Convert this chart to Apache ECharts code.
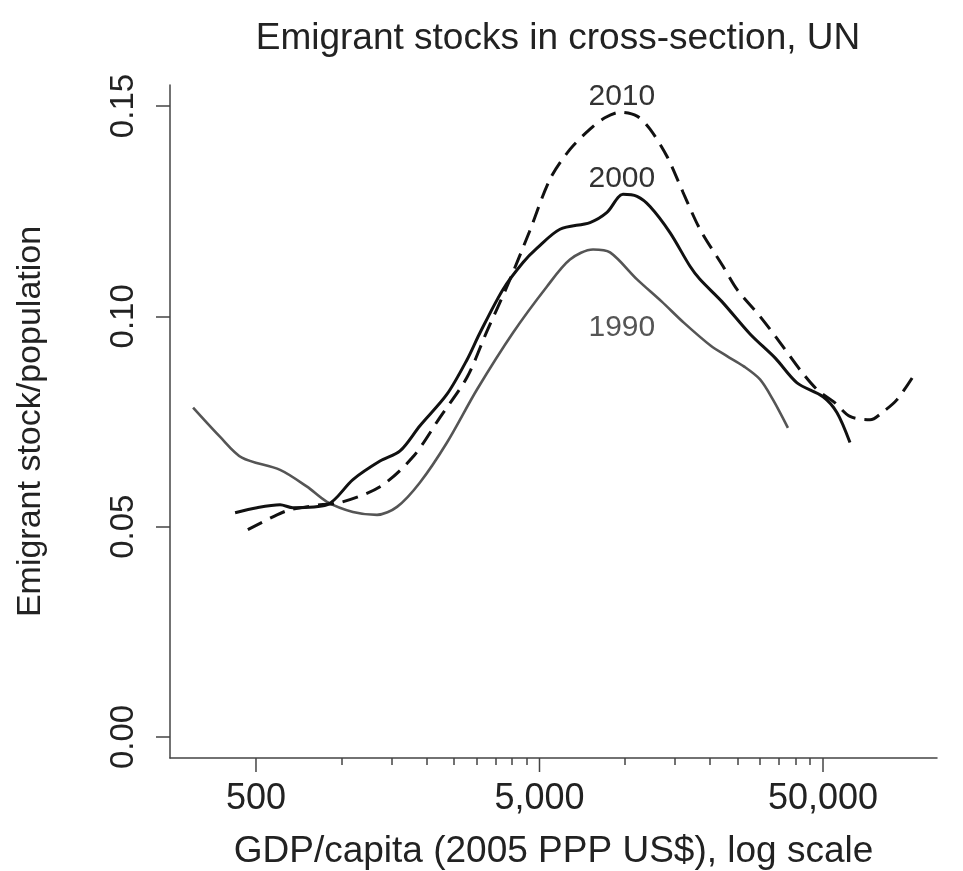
<!DOCTYPE html>
<html>
<head>
<meta charset="utf-8">
<script src="https://cdn.jsdelivr.net/npm/echarts@6/dist/echarts.min.js"></script>
<style>
  html, body { margin: 0; padding: 0; background: #fff; }
  #chart { width: 963px; height: 871px; background: #fff; }
</style>
</head>
<body>
<div id="chart"></div>
<script>
// GDP/capita (x) and emigrant stock share (y)
const gdp1990 = [300, 373, 446, 608, 757, 890, 1099, 1336, 1572, 1894, 2359, 3010, 4032, 5314, 6405, 7722, 8866, 11040, 13500, 16139, 20100, 23000, 26287, 29975, 33300, 37605];
const share1990 = [0.0783, 0.0714, 0.0664, 0.0635, 0.0595, 0.0559, 0.0535, 0.0528, 0.0547, 0.0605, 0.0700, 0.0826, 0.0961, 0.1071, 0.1135, 0.1159, 0.1152, 0.1088, 0.1035, 0.0985, 0.0930, 0.0905, 0.0881, 0.0850, 0.0802, 0.0735];

const gdp2000 = [422, 504, 608, 675, 890, 1099, 1369, 1611, 1894, 2359, 2776, 3084, 3717, 4373, 4900, 5905, 7536, 8650, 9850, 11040, 12270, 14430, 16980, 18400, 22000, 27640, 34000, 40490, 50000, 56030, 62250];
const share2000 = [0.0533, 0.0545, 0.0552, 0.0545, 0.0552, 0.0612, 0.0656, 0.0680, 0.0740, 0.0815, 0.0897, 0.0961, 0.1064, 0.1128, 0.1162, 0.1207, 0.1223, 0.1247, 0.1290, 0.1285, 0.1261, 0.1199, 0.1119, 0.1088, 0.1035, 0.0958, 0.0900, 0.0842, 0.0809, 0.0771, 0.0700];

const gdp2010 = [468, 593, 659, 841, 990, 1369, 1790, 2229, 2776, 3264, 3840, 4600, 5445, 6405, 7536, 8500, 9616, 11040, 12270, 14090, 16040, 18410, 22200, 24870, 29975, 36130, 41470, 47620, 55000, 62250, 73250, 81400, 91200, 103900];
const share2010 = [0.0493, 0.0528, 0.0540, 0.0552, 0.0557, 0.0595, 0.0666, 0.0760, 0.0855, 0.0965, 0.1071, 0.1200, 0.1326, 0.1397, 0.1445, 0.1472, 0.1485, 0.1476, 0.1445, 0.1380, 0.1295, 0.1207, 0.1119, 0.1064, 0.1000, 0.0928, 0.0873, 0.0826, 0.0795, 0.0762, 0.0754, 0.0773, 0.0802, 0.0857];

const xMajorTicks = [500, 5000, 50000];
const xMinorTicks = [1000, 1500, 2000, 2500, 3000, 3500, 4000, 4500, 10000, 15000, 20000, 25000, 30000, 35000, 40000, 45000];
const yTicks = [0, 0.05, 0.10, 0.15];

const X_MIN = 248.7;
const X_MAX = 126200;
const Y_MIN = -0.005;
const Y_MAX = 0.155;

const pairs = (xs, ys) => xs.map((x, i) => [x, ys[i]]);

const FONT = '"Liberation Sans", Arial, Helvetica, sans-serif';
const AXIS_COLOR = '#444';
const TEXT_COLOR = '#222';

const chart = echarts.init(document.getElementById('chart'), null, { renderer: 'canvas' });

// year tags placed in data space next to each curve
function yearTag(text, coord, color) {
  return {
    symbol: 'circle',
    symbolSize: 1,
    silent: true,
    itemStyle: { color: 'rgba(0,0,0,0)' },
    label: {
      show: true,
      position: 'inside',
      formatter: text,
      fontFamily: FONT,
      fontSize: 30,
      color: color
    },
    data: [{ coord: coord }]
  };
}

const option = {
  animation: false,
  tooltip: { show: false },
  title: {
    text: 'Emigrant stocks in cross-section, UN',
    left: 553,
    top: 15,
    textAlign: 'center',
    textStyle: { fontFamily: FONT, fontSize: 37, fontWeight: 'normal', color: TEXT_COLOR }
  },
  grid: {
    left: 170, right: 26, top: 85, bottom: 113,
    containLabel: false,
    outerBoundsMode: 'none'
  },
  xAxis: [
    {
      type: 'log',
      logBase: 10,
      min: X_MIN,
      max: X_MAX,
      position: 'bottom',
      name: 'GDP/capita (2005 PPP US$), log scale',
      nameLocation: 'middle',
      nameGap: 75,
      nameTextStyle: { fontFamily: FONT, fontSize: 37, color: TEXT_COLOR },
      axisLine: { show: true, onZero: false, lineStyle: { color: AXIS_COLOR, width: 1.5 } },
      axisTick: { show: false },
      axisLabel: {
        show: true,
        customValues: xMajorTicks,
        margin: 23,
        fontFamily: FONT,
        fontSize: 36,
        color: TEXT_COLOR,
        formatter: v => Math.round(v).toLocaleString('en-US')
      },
      splitLine: { show: false },
      minorTick: { show: false }
    },
    {
      // short ticks: every 500 up to 5,000 and every 5,000 up to 50,000
      type: 'log',
      logBase: 10,
      min: X_MIN,
      max: X_MAX,
      position: 'bottom',
      axisLine: { show: false, onZero: false },
      axisTick: { show: true, customValues: xMinorTicks, length: 7, lineStyle: { color: AXIS_COLOR, width: 1.5 } },
      axisLabel: { show: false },
      splitLine: { show: false }
    }
  ],
  yAxis: {
    type: 'value',
    min: Y_MIN,
    max: Y_MAX,
    name: 'Emigrant stock/population',
    nameLocation: 'middle',
    nameGap: 122,
    nameRotate: 90,
    nameTextStyle: { fontFamily: FONT, fontSize: 34, color: TEXT_COLOR },
    axisLine: { show: true, onZero: false, lineStyle: { color: AXIS_COLOR, width: 1.5 } },
    axisTick: { show: true, customValues: yTicks, length: 14, lineStyle: { color: AXIS_COLOR, width: 1.5 } },
    axisLabel: {
      show: true,
      customValues: yTicks,
      rotate: 90,
      margin: 30,
      fontFamily: FONT,
      fontSize: 33,
      color: TEXT_COLOR,
      formatter: v => v.toFixed(2)
    },
    splitLine: { show: false }
  },
  series: [
    {
      name: '1990',
      type: 'line',
      data: pairs(gdp1990, share1990),
      showSymbol: false,
      smooth: 0.3,
      lineStyle: { color: '#555', width: 2.6 },
      markPoint: yearTag('1990', [9760, 0.0973], '#555')
    },
    {
      name: '2000',
      type: 'line',
      data: pairs(gdp2000, share2000),
      showSymbol: false,
      smooth: 0.3,
      lineStyle: { color: '#111', width: 3 },
      markPoint: yearTag('2000', [9760, 0.1326], '#333')
    },
    {
      name: '2010',
      type: 'line',
      data: pairs(gdp2010, share2010),
      showSymbol: false,
      smooth: 0.3,
      lineStyle: { color: '#111', width: 3, type: [16, 9] },
      markPoint: yearTag('2010', [9760, 0.1521], '#333')
    },
    {
      // long ticks under the labelled values, hung below the x axis line
      name: 'majorTicks',
      type: 'custom',
      silent: true,
      clip: false,
      z: 10,
      data: xMajorTicks.map(v => [v, Y_MIN]),
      renderItem: (params, api) => {
        const p = api.coord([api.value(0), api.value(1)]);
        return {
          type: 'line',
          shape: { x1: p[0], y1: p[1], x2: p[0], y2: p[1] + 14 },
          style: { stroke: AXIS_COLOR, lineWidth: 1.5 }
        };
      }
    }
  ]
};

chart.setOption(option);
</script>
</body>
</html>
